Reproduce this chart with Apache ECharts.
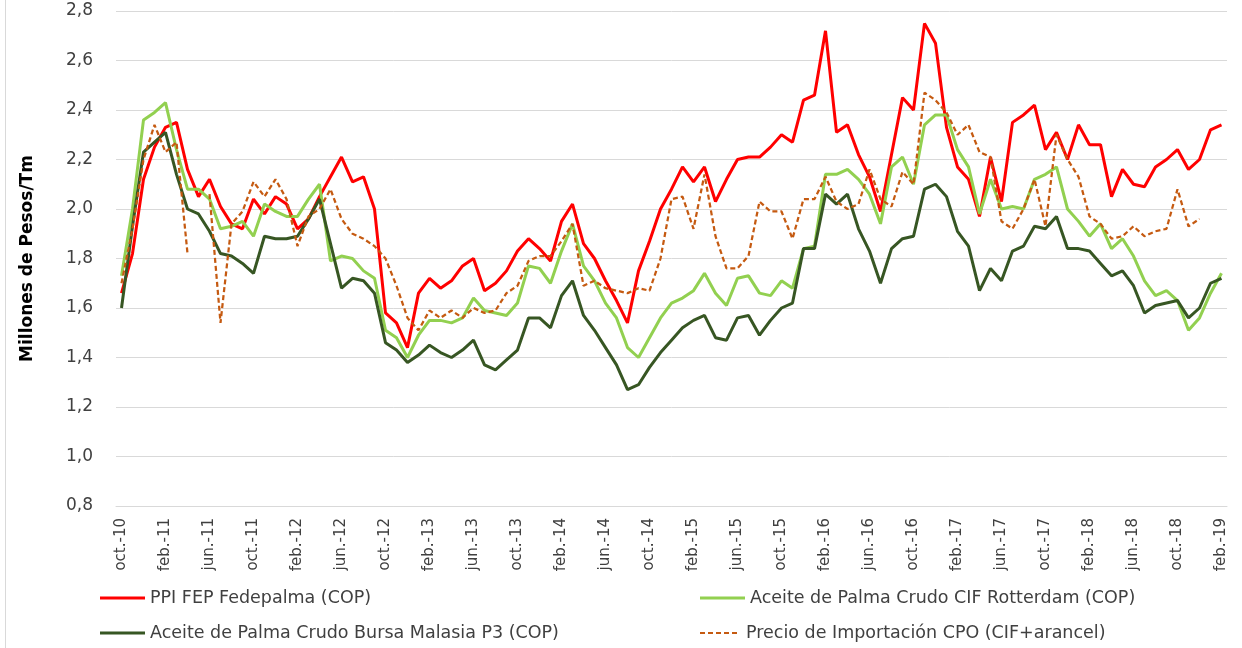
<!DOCTYPE html>
<html>
<head>
<meta charset="utf-8">
<script src="https://cdn.jsdelivr.net/npm/echarts@6/dist/echarts.min.js"></script>
<style>
  html, body { margin: 0; padding: 0; background: #ffffff; }
  #chart { width: 1242px; height: 648px; }
</style>
</head>
<body>
<div id="chart"></div>
<script>
// Monthly categories, oct-10 through feb-19
const monthNames = ['ene.', 'feb.', 'mar.', 'abr.', 'may.', 'jun.', 'jul.', 'ago.', 'sep.', 'oct.', 'nov.', 'dic.'];
const categories = [];
for (let k = 0; k <= 100; k++) {
  const m = (9 + k) % 12;
  const y = 10 + Math.floor((9 + k) / 12);
  categories.push(monthNames[m] + '-' + y);
}

// Millones de pesos por tonelada
const ppiFedepalma = [
  1.66, 1.82, 2.12, 2.25, 2.33, 2.35, 2.16, 2.05, 2.12, 2.01,
  1.94, 1.92, 2.04, 1.98, 2.05, 2.02, 1.92, 1.96, 2.05, 2.13,
  2.21, 2.11, 2.13, 2.00, 1.58, 1.54, 1.44, 1.66, 1.72, 1.68,
  1.71, 1.77, 1.80, 1.67, 1.70, 1.75, 1.83, 1.88, 1.84, 1.79,
  1.95, 2.02, 1.86, 1.80, 1.71, 1.63, 1.54, 1.75, 1.87, 2.00,
  2.08, 2.17, 2.11, 2.17, 2.03, 2.12, 2.20, 2.21, 2.21, 2.25,
  2.30, 2.27, 2.44, 2.46, 2.72, 2.31, 2.34, 2.22, 2.13, 1.99,
  2.22, 2.45, 2.40, 2.75, 2.67, 2.33, 2.17, 2.12, 1.97, 2.21,
  2.03, 2.35, 2.38, 2.42, 2.24, 2.31, 2.20, 2.34, 2.26, 2.26,
  2.05, 2.16, 2.10, 2.09, 2.17, 2.20, 2.24, 2.16, 2.20, 2.32,
  2.34
];

const cifRotterdam = [
  1.73, 2.00, 2.36, 2.39, 2.43, 2.24, 2.08, 2.08, 2.04, 1.92,
  1.93, 1.95, 1.89, 2.02, 1.99, 1.97, 1.97, 2.04, 2.10, 1.79,
  1.81, 1.80, 1.75, 1.72, 1.51, 1.48, 1.40, 1.49, 1.55, 1.55,
  1.54, 1.56, 1.64, 1.59, 1.58, 1.57, 1.62, 1.77, 1.76, 1.70,
  1.83, 1.94, 1.77, 1.71, 1.62, 1.56, 1.44, 1.40, 1.48, 1.56,
  1.62, 1.64, 1.67, 1.74, 1.66, 1.61, 1.72, 1.73, 1.66, 1.65,
  1.71, 1.68, 1.84, 1.85, 2.14, 2.14, 2.16, 2.12, 2.06, 1.94,
  2.17, 2.21, 2.10, 2.34, 2.38, 2.38, 2.24, 2.17, 1.98, 2.12,
  2.00, 2.01, 2.00, 2.12, 2.14, 2.17, 2.00, 1.95, 1.89, 1.94,
  1.84, 1.88, 1.81, 1.71, 1.65, 1.67, 1.63, 1.51, 1.56, 1.66,
  1.74
];

const bursaMalasia = [
  1.60, 1.93, 2.23, 2.27, 2.31, 2.14, 2.00, 1.98, 1.91, 1.82,
  1.81, 1.78, 1.74, 1.89, 1.88, 1.88, 1.89, 1.96, 2.04, 1.86,
  1.68, 1.72, 1.71, 1.66, 1.46, 1.43, 1.38, 1.41, 1.45, 1.42,
  1.40, 1.43, 1.47, 1.37, 1.35, 1.39, 1.43, 1.56, 1.56, 1.52,
  1.65, 1.71, 1.57, 1.51, 1.44, 1.37, 1.27, 1.29, 1.36, 1.42,
  1.47, 1.52, 1.55, 1.57, 1.48, 1.47, 1.56, 1.57, 1.49, 1.55,
  1.60, 1.62, 1.84, 1.84, 2.06, 2.02, 2.06, 1.92, 1.83, 1.70,
  1.84, 1.88, 1.89, 2.08, 2.10, 2.05, 1.91, 1.85, 1.67, 1.76,
  1.71, 1.83, 1.85, 1.93, 1.92, 1.97, 1.84, 1.84, 1.83, 1.78,
  1.73, 1.75, 1.69, 1.58, 1.61, 1.62, 1.63, 1.56, 1.60, 1.70,
  1.72
];

const importacionCPO = [
  1.70, 1.92, 2.20, 2.34, 2.23, 2.27, 1.82, null, 2.06, 1.54,
  1.94, 1.99, 2.11, 2.05, 2.12, 2.04, 1.85, 1.97, 2.00, 2.08,
  1.96, 1.90, 1.88, 1.85, 1.80, 1.69, 1.56, 1.51, 1.59, 1.56,
  1.59, 1.56, 1.60, 1.58, 1.59, 1.66, 1.69, 1.79, 1.81, 1.81,
  1.87, 1.94, 1.69, 1.71, 1.68, 1.67, 1.66, 1.68, 1.67, 1.80,
  2.04, 2.05, 1.92, 2.14, 1.89, 1.76, 1.76, 1.81, 2.03, 1.99,
  1.99, 1.88, 2.04, 2.04, 2.13, 2.03, 2.00, 2.02, 2.16, 2.04,
  2.01, 2.15, 2.10, 2.47, 2.44, 2.39, 2.30, 2.34, 2.23, 2.21,
  1.95, 1.92, 2.00, 2.12, 1.93, 2.30, 2.20, 2.13, 1.97, 1.94,
  1.88, 1.89, 1.93, 1.89, 1.91, 1.92, 2.08, 1.93, 1.96, null,
  null
];

const seriesNames = [
  'PPI FEP Fedepalma (COP)',
  'Aceite de Palma Crudo CIF Rotterdam (COP)',
  'Aceite de Palma Crudo Bursa Malasia P3 (COP)',
  'Precio de Importación CPO (CIF+arancel)'
];

const FONT = 'DejaVu Sans';
const chart = echarts.init(document.getElementById('chart'), null, { renderer: 'canvas' });

function lineSeries(name, data, color, width, type) {
  return {
    name: name,
    type: 'line',
    data: data,
    symbol: 'none',
    smooth: false,
    connectNulls: false,
    lineStyle: { color: color, width: width, type: type || 'solid' },
    itemStyle: { color: color },
    emphasis: { disabled: true },
    z: 3
  };
}

// Legend swatches: a solid bar, and a dashed bar for the import price
const solidIcon = 'rect';
const dashedIcon = 'path://M0,0h5v2h-5zM8,0h5v2h-5zM16,0h5v2h-5zM24,0h5v2h-5zM32,0h5v2h-5z';

function legendItem(name, left, top, icon, h) {
  return {
    data: [name],
    left: left,
    top: top,
    padding: 0,
    icon: icon,
    itemWidth: 45,
    itemHeight: h,
    itemGap: 0,
    selectedMode: false,
    textStyle: { fontFamily: FONT, fontSize: 17.5, color: '#404040', lineHeight: 20 }
  };
}

chart.setOption({
  animation: false,
  backgroundColor: '#ffffff',
  grid: { left: 116, right: 15, top: 11, bottom: 142, containLabel: false },
  graphic: [{
    type: 'line',
    shape: { x1: 5.5, y1: 0, x2: 5.5, y2: 648 },
    style: { stroke: '#d9d9d9', lineWidth: 1 }
  }],
  legend: [
    legendItem(seriesNames[0], 100, 588, solidIcon, 3),
    legendItem(seriesNames[2], 100, 623, solidIcon, 3),
    legendItem(seriesNames[1], 700, 588, solidIcon, 3),
    legendItem(seriesNames[3], 700, 623, dashedIcon, 2)
  ],
  xAxis: {
    type: 'category',
    data: categories,
    boundaryGap: true,
    axisLine: { show: true, lineStyle: { color: '#d9d9d9', width: 1 } },
    axisTick: { show: false },
    axisLabel: {
      interval: 3,
      rotate: 90,
      margin: 12,
      fontFamily: FONT,
      fontSize: 15,
      color: '#404040'
    },
    splitLine: { show: false }
  },
  yAxis: {
    type: 'value',
    min: 0.8,
    max: 2.8,
    interval: 0.2,
    name: 'Millones de Pesos/Tm',
    nameLocation: 'middle',
    nameGap: 80,
    nameTextStyle: { fontFamily: FONT, fontSize: 17, fontWeight: 'bold', color: '#000000' },
    axisLine: { show: false },
    axisTick: { show: false },
    axisLabel: {
      margin: 23,
      fontFamily: FONT,
      fontSize: 17,
      color: '#404040',
      formatter: function (v) { return v.toFixed(1).replace('.', ','); }
    },
    splitLine: { show: true, lineStyle: { color: '#d9d9d9', width: 1 } }
  },
  series: [
    lineSeries(seriesNames[0], ppiFedepalma, '#ff0000', 3),
    lineSeries(seriesNames[1], cifRotterdam, '#92d050', 3),
    lineSeries(seriesNames[2], bursaMalasia, '#375623', 3),
    lineSeries(seriesNames[3], importacionCPO, '#c55a11', 2.25, [5, 3])
  ]
});
</script>
</body>
</html>
